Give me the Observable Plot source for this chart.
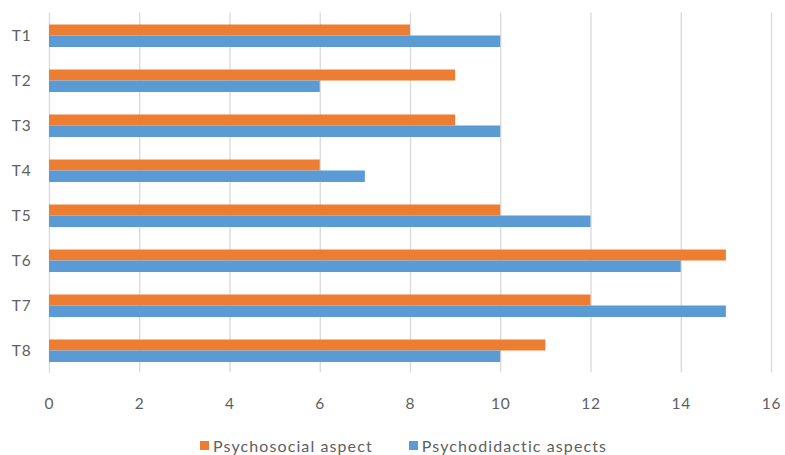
<!DOCTYPE html>
<html>
<head>
<meta charset="utf-8">
<script src="https://cdn.jsdelivr.net/npm/d3@7"></script>
<script src="https://cdn.jsdelivr.net/npm/@observablehq/plot@0.6"></script>
<style>
  body { margin: 0; background: #fff; }
  #chart { width: 785px; }
  .legend { display: flex; justify-content: flex-start; align-items: center; height: 35px; padding-top: 8px;
    font-family: Lato, "Open Sans", sans-serif; font-size: 16px; color: #606060; letter-spacing: 1.1px; }
  .sw { display: inline-block; width: 9px; height: 9px; margin-right: 4px; }
  .item { display: flex; align-items: center; }
</style>
</head>
<body>
<div id="chart"></div>
<script>
const categories = ["T1", "T2", "T3", "T4", "T5", "T6", "T7", "T8"];
const psychosocial = [8, 9, 9, 6, 10, 15, 12, 11];
const psychodidactic = [10, 6, 10, 7, 12, 14, 15, 10];
const xTicks = [0, 2, 4, 6, 8, 10, 12, 14, 16];
const seriesNames = ["Psychosocial aspect", "Psychodidactic aspects"];
const seriesColors = ["#ED7D31", "#5B9BD5"];

const dataA = categories.map((c, i) => ({cat: c, v: psychosocial[i]}));
const dataB = categories.map((c, i) => ({cat: c, v: psychodidactic[i]}));

const plot = Plot.plot({
  width: 785,
  height: 420,
  marginTop: 12.5,
  marginBottom: 47.5,
  marginLeft: 49,
  marginRight: 14,
  style: {fontFamily: "Lato, 'Open Sans', sans-serif", fontSize: "15.5px", color: "#606060"},
  x: {domain: [0, 16], ticks: xTicks, label: null},
  y: {domain: categories, padding: 0, label: null},
  marks: [
    Plot.gridX(xTicks, {stroke: "#d9d9d9", strokeOpacity: 1, strokeWidth: 1.3}),
    Plot.barX(dataA, {y: "cat", x: "v", fill: seriesColors[0], insetTop: 11.5, insetBottom: 22.5}),
    Plot.barX(dataB, {y: "cat", x: "v", fill: seriesColors[1], insetTop: 22.5, insetBottom: 11}),
    Plot.axisX({ticks: xTicks, tickSize: 0, tickPadding: 25, label: null, fill: "#606060"}),
    Plot.axisY({tickSize: 0, tickPadding: 18, label: null, fill: "#606060"})
  ]
});
plot.querySelectorAll("text").forEach(t => t.style.letterSpacing = "0.8px");
document.getElementById("chart").appendChild(plot);

const legend = document.createElement("div");
legend.className = "legend";
legend.style.paddingLeft = "200px";
seriesNames.forEach((n, i) => {
  const it = document.createElement("span");
  it.className = "item";
  it.style.marginRight = i === 0 ? "36px" : "0";
  const sw = document.createElement("span");
  sw.className = "sw";
  sw.style.background = seriesColors[i];
  it.appendChild(sw);
  it.appendChild(document.createTextNode(n));
  legend.appendChild(it);
});
document.getElementById("chart").appendChild(legend);
</script>
</body>
</html>
